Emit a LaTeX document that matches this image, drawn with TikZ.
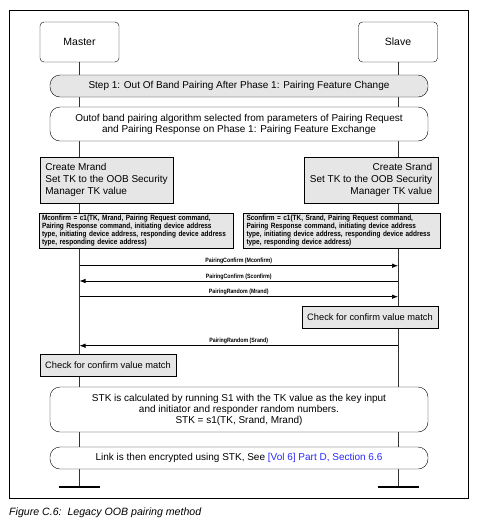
\documentclass[tikz,border=0pt]{standalone}
\usepackage{fontspec}
\setmainfont{Liberation Sans}
\newfontfamily\condfont[FakeStretch=0.85]{Liberation Sans}
\usetikzlibrary{backgrounds,arrows.meta}
\definecolor{boxgray}{RGB}{230,230,230}
\definecolor{linkblue}{RGB}{40,40,255}
\tikzset{
  lifebox/.style={draw, rounded corners=4pt, minimum width=79pt, minimum height=40pt,
    inner sep=0pt, font=\fontsize{10.5}{12}\selectfont},
  stepbox/.style={draw, rounded corners=10pt, minimum width=378pt, inner sep=0pt,
    align=center, font=\fontsize{10}{11}\selectfont},
  actbox/.style={draw, fill=boxgray, inner sep=3pt, font=\fontsize{10}{12}\selectfont},
  checkbox/.style={actbox, minimum width=136pt, minimum height=22pt, font=\fontsize{9.3}{11}\selectfont},
  calcbox/.style={draw, fill=boxgray, inner xsep=3pt, inner ysep=2pt, align=left, minimum height=33pt,
    font=\condfont\bfseries\fontsize{7.6}{8}\selectfont},
  msg/.style={-{Latex[length=6pt,width=4.5pt]}, line width=0.7pt},
  msglabel/.style={above, inner sep=1.2pt, font=\condfont\bfseries\fontsize{6.2}{6.2}\selectfont},
  life/.style={line width=0.7pt, draw=black!80},
  lifeend/.style={line width=1.6pt}
}
\begin{document}
\begin{tikzpicture}[x=1pt, y=-1pt]
\useasboundingbox (0,0) rectangle (483,523);
% frame
\draw[line width=0.6pt] (9,10) rectangle (468,498);

% Master and Slave
\node[lifebox] (master) at (79.5,42) {Master};
\node[lifebox] (slave) at (398,42) {Slave};

% Phase boxes
\node[stepbox, fill=boxgray, minimum height=22pt] (step) at (239,86)
{Step 1: Out Of Band Pairing After Phase 1: Pairing Feature Change};
\node[stepbox, fill=white, minimum height=34pt] (select) at (239,124)
{Outof band pairing algorithm selected from parameters of Pairing Request\\
and Pairing Response on Phase 1: Pairing Feature Exchange};

% Create rand
\node[actbox, minimum width=133pt, minimum height=46pt, align=left] (mrand) at (106.5,180)
{Create Mrand\\Set TK to the OOB Security\\Manager TK value};
\node[actbox, minimum width=134pt, minimum height=46pt, align=right] (srand) at (371,180)
{Create Srand\\Set TK to the OOB Security\\Manager TK value};

% Confirm values
\node[calcbox, text width=188pt] (mconfirm) at (136,230.5)
{Mconfirm = c1(TK, Mrand, Pairing Request command,\\
Pairing Response command, initiating device address\\
type, initiating device address, responding device address\\
type, responding device address)};
\node[calcbox, text width=191pt] (sconfirm) at (342,230.5)
{Sconfirm = c1(TK, Srand, Pairing Request command,\\
Pairing Response command, initiating device address\\
type, initiating device address, responding device address\\
type, responding device address)};

% Messages
\coordinate (m1) at (79.5,265.7); \coordinate (s1) at (398,265.7);
\coordinate (m2) at (79.5,281);   \coordinate (s2) at (398,281);
\coordinate (m3) at (79.5,296.7); \coordinate (s3) at (398,296.7);
\coordinate (m4) at (79.5,345.7); \coordinate (s4) at (398,345.7);
\draw[msg] (m1) -- node[msglabel] {PairingConfirm (Mconfirm)} (s1);
\draw[msg] (s2) -- node[msglabel] {PairingConfirm (Sconfirm)} (m2);
\draw[msg] (m3) -- node[msglabel] {PairingRandom (Mrand)} (s3);

\node[checkbox] (scheck) at (370,317) {Check for confirm value match};

\draw[msg] (s4) -- node[msglabel] {PairingRandom (Srand)} (m4);

\node[checkbox] (mcheck) at (108,365) {Check for confirm value match};

% STK
\node[stepbox, fill=white, minimum height=45pt] (stk) at (239,409.5)
{STK is calculated by running S1 with the TK value as the key input\\
and initiator and responder random numbers.\\
STK = s1(TK, Srand, Mrand)};
\node[stepbox, fill=white, minimum height=22pt] (link) at (239,458)
{Link is then encrypted using STK, See \textcolor{linkblue}{[Vol 6] Part D, Section 6.6}};

% Lifelines
\coordinate (mend) at (79.5,487);
\coordinate (send) at (398,487);
\begin{scope}[on background layer]
\draw[life] (master.south) -- (mend);
\draw[life] (slave.south) -- (send);
\end{scope}
\draw[lifeend] ([xshift=-20.5pt]mend) -- ([xshift=20.5pt]mend);
\draw[lifeend] ([xshift=-20.5pt]send) -- ([xshift=20.5pt]send);

% Caption
\node[anchor=west, inner sep=0pt, font=\itshape\fontsize{10.6}{12}\selectfont] (caption) at (9,513)
{Figure C.6:\ \ Legacy OOB pairing method};
\end{tikzpicture}
\end{document}
